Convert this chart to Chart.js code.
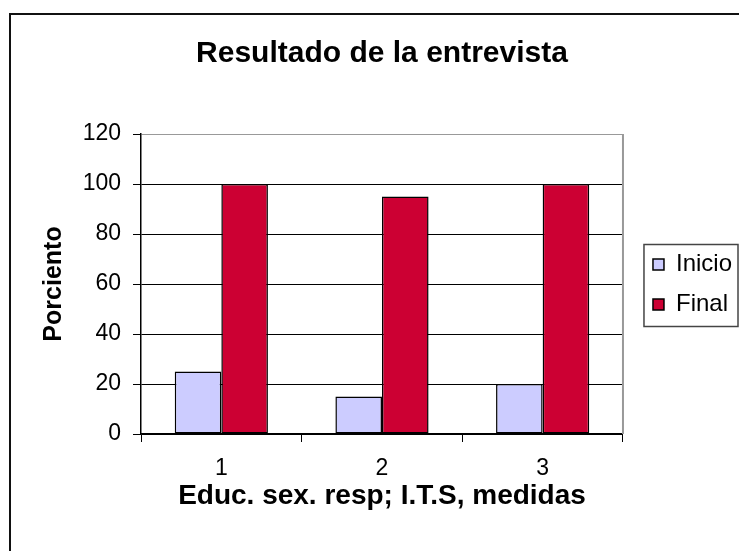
<!DOCTYPE html>
<html>
<head>
<meta charset="utf-8">
<script src="https://cdn.jsdelivr.net/npm/chart.js@4.4.0/dist/chart.umd.min.js"></script>
<style>
    body { margin: 0; background: #fff; }
</style>
</head>
<body>
<canvas id="entrevista" width="739" height="551"></canvas>
<script>
// данные
const categorias = ["1", "2", "3"];
const inicio = [25, 15, 20];
const final = [100, 95, 100];
const ejeY = [0, 120, 20]; // min, max, шаг

const FONT = "'Liberation Sans', Arial, sans-serif";

// рамка диаграммы, правая граница области и рамка легенды
const marcos = {
    id: "marcos",
    beforeDraw: (chart) => {
        const ctx = chart.ctx;
        ctx.save();
        ctx.fillStyle = "#fff";
        ctx.fillRect(0, 0, chart.width, chart.height);
        ctx.strokeStyle = "#111";
        ctx.lineWidth = 2;
        ctx.beginPath();
        ctx.moveTo(10, chart.height);
        ctx.lineTo(10, 14);
        ctx.lineTo(chart.width, 14);
        ctx.stroke();
        ctx.restore();
    },
    afterDraw: (chart) => {
        const ctx = chart.ctx;
        const area = chart.chartArea;
        ctx.save();
        ctx.strokeStyle = "#999";
        ctx.lineWidth = 2;
        ctx.beginPath();
        ctx.moveTo(area.right, area.top);
        ctx.lineTo(area.right, area.bottom);
        ctx.stroke();

        const boxes = chart.legend.legendHitBoxes;
        const first = boxes[0];
        const last = boxes[boxes.length - 1];
        const right = Math.max(...boxes.map(b => b.left + b.width));
        ctx.strokeStyle = "#444";
        ctx.lineWidth = 1.5;
        ctx.strokeRect(first.left - 9, first.top - 8, right - first.left + 15, last.top + last.height - first.top + 18);
        ctx.restore();
    }
};

const ctx = document.getElementById("entrevista").getContext("2d");
new Chart(ctx, {
    type: "bar",
    data: {
        labels: categorias,
        datasets: [
            {
                label: "Inicio",
                data: inicio,
                backgroundColor: "#CCCCFF",
                borderColor: "#000",
                borderWidth: 1.5,
                borderSkipped: false
            },
            {
                label: "Final",
                data: final,
                backgroundColor: "#CC0033",
                borderColor: "#000",
                borderWidth: 1.5,
                borderSkipped: false
            }
        ]
    },
    options: {
        responsive: false,
        animation: false,
        datasets: {
            bar: {
                categoryPercentage: 0.58,
                barPercentage: 1
            }
        },
        layout: {
            padding: { left: 0, top: 0, right: -3, bottom: 0 }
        },
        plugins: {
            title: {
                display: true,
                fullSize: false,
                text: "Resultado de la entrevista",
                color: "#000",
                font: { family: FONT, size: 30, weight: "bold" },
                padding: { top: 36, bottom: 62 }
            },
            legend: {
                position: "right",
                // пустой заголовок, чтобы опустить пункты легенды
                title: { display: true, text: "", font: { size: 15 }, padding: 0 },
                labels: {
                    color: "#000",
                    font: { family: FONT, size: 24 },
                    boxWidth: 11,
                    boxHeight: 11,
                    padding: 16
                }
            },
            tooltip: { enabled: false }
        },
        scales: {
            x: {
                grid: {
                    drawOnChartArea: false,
                    tickLength: 8,
                    color: "#000",
                    offset: true
                },
                border: { color: "#000", width: 1.5 },
                ticks: {
                    color: "#000",
                    padding: 13,
                    font: { family: FONT, size: 23 }
                },
                title: {
                    display: true,
                    text: "Educ. sex. resp; I.T.S, medidas",
                    color: "#000",
                    font: { family: FONT, size: 28, weight: "bold" },
                    padding: { top: 0, bottom: 38 }
                },
                afterFit: (s) => { s.height = 117; }
            },
            y: {
                min: ejeY[0],
                max: ejeY[1],
                grid: {
                    color: (c) => c.tick && c.tick.value === ejeY[1] ? "#999" : "#000",
                    tickColor: "#000",
                    tickLength: 8,
                    lineWidth: 1
                },
                border: { color: "#000", width: 1.5 },
                ticks: {
                    stepSize: ejeY[2],
                    color: "#000",
                    padding: 12,
                    font: { family: FONT, size: 23 }
                },
                title: {
                    display: true,
                    text: "Porciento",
                    color: "#000",
                    font: { family: FONT, size: 25, weight: "bold" },
                    padding: { top: 39, bottom: 0 }
                },
                afterFit: (s) => { s.width = 141; }
            },
            // пустая ось — зазор между областью и легендой
            gap: {
                type: "linear",
                position: "right",
                display: true,
                grid: { display: false, drawTicks: false },
                ticks: { display: false },
                border: { display: false },
                afterFit: (s) => { s.width = 14; }
            }
        }
    },
    plugins: [marcos]
});
</script>
</body>
</html>
